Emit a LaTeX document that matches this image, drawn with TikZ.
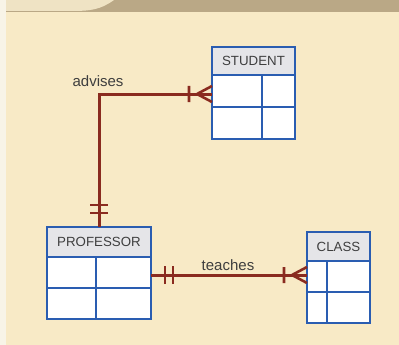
\documentclass[tikz,border=0pt]{standalone}
\usepackage{fontspec}
\setmainfont{Liberation Sans}
\definecolor{bgcream}{HTML}{F8EAC6}
\definecolor{bgstrip}{HTML}{F8F4E7}
\definecolor{bgtan}{HTML}{BAA886}
\definecolor{bglight}{HTML}{EFE3C4}
\definecolor{tblue}{HTML}{2A5DB1}
\definecolor{headgray}{HTML}{E5E5E8}
\definecolor{relred}{HTML}{8A2B1F}
\definecolor{textgray}{HTML}{3E3E3E}
\tikzset{
  one/.pic={\draw[relmark] (-14,-9) -- (-14,9) (-22,-9) -- (-22,9);},
  many/.pic={\draw[relmark] (-23,-8) -- (-23,8) (-15,0) -- (0,-8) (-15,0) -- (0,8);}
}
\begin{document}
\begin{tikzpicture}[x=1pt,y=-1pt,
  head/.style={draw=tblue, line width=2pt, fill=headgray, inner sep=0pt, outer sep=0pt, anchor=north west, text=textgray, font=\fontsize{13.3}{15}\selectfont},
  row/.style={draw=tblue, line width=2pt, fill=white, inner sep=0pt, outer sep=0pt, anchor=north west},
  border/.style={draw=tblue, line width=2pt},
  rel/.style={draw=relred, line width=3pt},
  relmark/.style={draw=relred, line width=2.6pt},
  lbl/.style={text=textgray, inner sep=0pt, anchor=base, font=\fontsize{15}{17}\selectfont}]
\useasboundingbox (0,0) rectangle (399,345);
\fill[bgcream] (0,0) rectangle (399,345);
\fill[bgstrip] (0,0) rectangle (6,345);
\fill[bgtan] (6,0) rectangle (399,12);
\fill[bglight] (6,0) -- (114,0) .. controls (100,10) and (90,11) .. (70,11) -- (6,11) -- cycle;
\node[head, minimum width=83pt, minimum height=28pt] (student) at (212,47) {STUDENT};
\node[row, minimum width=83pt, minimum height=32pt] (student-r1) at (student.south west) {};
\node[row, minimum width=83pt, minimum height=32pt] (student-r2) at (student-r1.south west) {};
\draw[border] ([xshift=50pt]student-r1.north west) -- ([xshift=50pt]student-r2.south west);
\node[head, minimum width=104pt, minimum height=30pt] (professor) at (47,227) {PROFESSOR};
\node[row, minimum width=104pt, minimum height=31pt] (professor-r1) at (professor.south west) {};
\node[row, minimum width=104pt, minimum height=31pt] (professor-r2) at (professor-r1.south west) {};
\draw[border] ([xshift=49pt]professor-r1.north west) -- ([xshift=49pt]professor-r2.south west);
\node[head, minimum width=63pt, minimum height=29pt] (class) at (307,232) {CLASS};
\node[row, minimum width=63pt, minimum height=31pt] (class-r1) at (class.south west) {};
\node[row, minimum width=63pt, minimum height=31pt] (class-r2) at (class-r1.south west) {};
\draw[border] ([xshift=20pt]class-r1.north west) -- ([xshift=20pt]class-r2.south west);
\coordinate (adv) at ([yshift=-3pt]student-r1.west);
\draw[rel] (professor.north) |- (adv);
\pic[rotate=-90] at (professor.north) {one};
\pic at (adv) {many};
\node[lbl] (advlbl) at (98,86) {advises};
\coordinate (tch) at ([yshift=-2.5pt]professor-r1.east);
\coordinate (tcl) at (tch -| class-r1.west);
\draw[rel] (tch) -- (tcl);
\pic[rotate=180] at (tch) {one};
\pic at (tcl) {many};
\node[lbl] (tchlbl) at (228,270) {teaches};
\end{tikzpicture}
\end{document}
